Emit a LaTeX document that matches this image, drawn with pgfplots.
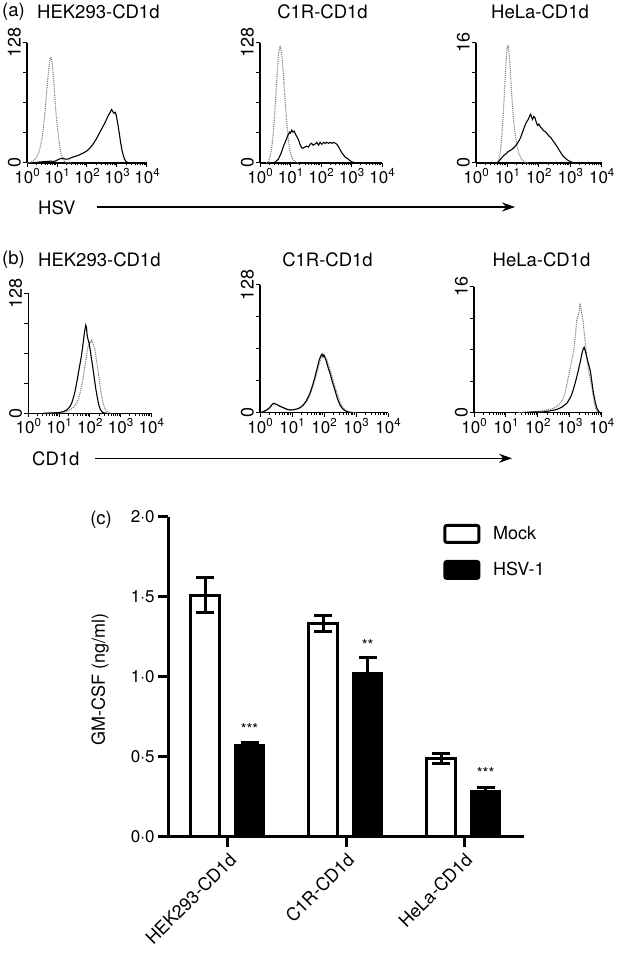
\documentclass[border=0pt]{standalone}
\usepackage{fontspec}
\setmainfont{TeX Gyre Heros}
\usepackage{pgfplots}
\pgfplotsset{compat=1.18}
\usetikzlibrary{arrows.meta}
\newcommand\dec[1]{10\raisebox{0.42em}{\fontsize{11.5}{12}\selectfont #1}}
\pgfplotsset{
  hist/.style={
    scale only axis, anchor=south west,
    axis x line*=bottom, axis y line*=left,
    axis line style={line width=1.4pt,-},
    xmin=0, xmax=4, ymin=0,
    xtick={0,1,2,3,4},
    xticklabels={\dec0,\dec1,\dec2,\dec3,\dec4},
    minor xtick={0.301,0.477,0.602,0.699,0.778,0.845,0.903,0.954,1.301,1.477,1.602,1.699,1.778,1.845,1.903,1.954,2.301,2.477,2.602,2.699,2.778,2.845,2.903,2.954,3.301,3.477,3.602,3.699,3.778,3.845,3.903,3.954},
    tick align=outside,
    major tick length=4pt, minor tick length=2.5pt,
    tick style={black, line width=1pt},
    xticklabel style={inner sep=1pt, font=\fontsize{17}{20}\selectfont},
    yticklabel style={rotate=90, anchor=south, inner sep=2pt},
    font=\fontsize{18}{21}\selectfont,
    clip=false,
  },
  h128/.style={ymax=128, ytick={0,32,64,96,128}, yticklabels={0,,,,128}},
  h16/.style={ymax=16, ytick={0,4,8,12,16}, yticklabels={0,,,,16}},
  iso/.style={gray, densely dotted, line width=1.1pt},
  stain/.style={black, line width=1.1pt},
}
\begin{document}
\begin{tikzpicture}
\path[use as bounding box] (0pt,0pt) rectangle (619pt,961pt);
\tikzset{lab/.style={font=\fontsize{18.5}{21}\selectfont, inner sep=0pt}}
% ---------- titles (a)
\node[lab, anchor=west] at (2pt,949pt) {(a)};
\node[lab, anchor=west] at (37pt,949pt) {HEK293-CD1d};
\node[lab] at (322.5pt,949pt) {C1R-CD1d};
\node[lab] at (540pt,949pt) {HeLa-CD1d};
\node[lab, anchor=west] at (38pt,753pt) {HSV};
\draw[-{Stealth[length=13pt,width=9pt]}, line width=1.3pt] (97pt,754pt) -- (515pt,754pt);
% ---------- titles (b)
\node[lab, anchor=west] at (2pt,701pt) {(b)};
\node[lab, anchor=west] at (38pt,701pt) {HEK293-CD1d};
\node[lab] at (327.5pt,701pt) {C1R-CD1d};
\node[lab] at (541.5pt,701pt) {HeLa-CD1d};
\node[lab, anchor=west] at (32pt,502.7pt) {CD1d};
\draw[-{Stealth[length=13pt,width=9pt]}, line width=1.3pt] (95pt,502.7pt) -- (512pt,502.7pt);

% ---------- a1
\begin{axis}[hist, h128, at={(27pt,798pt)}, width=120pt, height=120pt]
\addplot[iso] coordinates {(0.0,0) (0.1,0.5) (0.2,2) (0.3,5) (0.4,12) (0.45,18) (0.5,26) (0.55,38) (0.6,55) (0.65,74) (0.7,92) (0.74,105) (0.77,111) (0.79,113) (0.81,112) (0.84,106) (0.88,92) (0.92,74) (0.96,56) (1.0,42) (1.04,32) (1.08,20) (1.12,12) (1.16,7) (1.2,3.5) (1.27,1) (1.35,0.3) (1.5,0)};
\addplot[stain] coordinates {(0.2,0) (0.4,1) (0.6,1.5) (0.8,2) (0.9,1.5) (1.0,3) (1.1,4.5) (1.2,5) (1.3,4) (1.4,4.5) (1.5,6) (1.6,7) (1.7,8) (1.8,9.5) (1.9,11) (2.0,13) (2.1,16) (2.2,20) (2.3,25) (2.4,31) (2.5,37) (2.6,43) (2.7,50) (2.77,54) (2.82,57) (2.86,55) (2.9,53) (2.95,54) (2.98,50) (3.02,43) (3.07,33) (3.12,22) (3.17,13) (3.22,7) (3.27,3) (3.32,1) (3.4,0)};
\end{axis}
% ---------- a2
\begin{axis}[hist, h128, at={(260pt,798pt)}, width=122pt, height=120pt]
\addplot[iso] coordinates {(0.2,0) (0.27,1) (0.33,6) (0.4,20) (0.46,42) (0.52,72) (0.57,100) (0.61,117) (0.64,123) (0.66,124) (0.69,121) (0.73,110) (0.78,88) (0.83,64) (0.88,42) (0.93,25) (0.98,14) (1.03,7) (1.1,3) (1.17,1) (1.25,0)};
\addplot[stain] coordinates {(0.4,0) (0.5,1) (0.6,4) (0.7,11) (0.77,18) (0.85,24) (0.92,30) (0.97,33) (1.0,32) (1.04,35) (1.08,33) (1.12,34) (1.16,31) (1.21,28) (1.26,25) (1.31,20) (1.37,16) (1.42,16) (1.47,17) (1.53,18) (1.59,17) (1.64,20) (1.69,21) (1.74,19) (1.8,20) (1.86,22) (1.92,19) (1.97,22) (2.03,20) (2.09,22) (2.14,21) (2.19,22) (2.25,21) (2.3,22) (2.36,21) (2.41,22) (2.47,21) (2.52,20) (2.58,17) (2.63,14) (2.68,11) (2.74,8.5) (2.8,6) (2.86,5) (2.93,3) (3.0,1.5) (3.06,0.7) (3.15,0)};
\end{axis}
% ---------- a3
\begin{axis}[hist, h16, at={(476pt,798pt)}, width=125.7pt, height=120pt]
\addplot[iso] coordinates {(0.65,0) (0.72,0.3) (0.78,1.5) (0.83,4) (0.88,7.5) (0.93,11.5) (0.97,14.5) (1.0,15.5) (1.02,15.6) (1.05,14.8) (1.09,12.5) (1.13,9.5) (1.18,6.5) (1.24,4) (1.3,2.3) (1.37,1.2) (1.45,0.5) (1.56,0.1) (1.65,0)};
\addplot[stain] coordinates {(0.65,0) (0.72,0.2) (0.8,0.6) (0.88,1.0) (0.95,1.2) (1.02,1.5) (1.1,1.7) (1.17,1.9) (1.24,2.2) (1.3,2.5) (1.36,2.9) (1.42,3.4) (1.48,4.1) (1.54,4.8) (1.6,5.4) (1.66,5.8) (1.71,6.3) (1.74,6.5) (1.77,6.1) (1.8,5.8) (1.84,6.2) (1.88,6.0) (1.92,5.4) (1.96,5.0) (2.0,5.2) (2.05,4.8) (2.1,4.6) (2.15,4.3) (2.2,4.2) (2.26,3.9) (2.32,3.6) (2.38,3.4) (2.44,3.0) (2.5,2.7) (2.56,2.3) (2.62,1.9) (2.68,1.5) (2.74,1.1) (2.8,0.8) (2.88,0.5) (2.95,0.3) (3.05,0.1) (3.15,0)};
\end{axis}
% ---------- b1
\begin{axis}[hist, h128, at={(28.3pt,547.7pt)}, width=123pt, height=120pt]
\addplot[iso] coordinates {(0.6,0) (0.9,0.3) (1.1,0.6) (1.25,1.8) (1.4,4.5) (1.5,7.5) (1.57,10.7) (1.64,16) (1.7,24) (1.75,32) (1.79,39) (1.83,48) (1.88,58) (1.92,67.6) (1.96,73) (2.0,76.4) (2.03,75) (2.06,78) (2.09,76.4) (2.13,72) (2.17,67.6) (2.22,56) (2.28,42.7) (2.33,30) (2.39,17.8) (2.44,10) (2.49,5.3) (2.55,2) (2.6,0.7) (2.7,0)};
\addplot[stain] coordinates {(0.5,0) (0.7,0.3) (0.9,0.6) (1.0,0.8) (1.14,1.8) (1.25,3.5) (1.35,7) (1.41,10.7) (1.47,17) (1.53,25) (1.59,35.6) (1.65,47) (1.7,56) (1.74,64) (1.78,74) (1.81,82) (1.84,89) (1.87,94) (1.89,92) (1.92,81.8) (1.95,78) (1.98,74.7) (2.02,66) (2.06,57) (2.11,46) (2.16,34) (2.2,25) (2.24,17.8) (2.29,9) (2.35,3.6) (2.4,1.5) (2.45,0.5) (2.55,0)};
\end{axis}
% ---------- b2
\begin{axis}[hist, h128, at={(260pt,548.3pt)}, width=128pt, height=127.7pt]
\addplot[iso] coordinates {(0,0) (0.1,0.8) (0.21,2.5) (0.3,4.8) (0.37,7.5) (0.42,9) (0.48,8.5) (0.54,7.8) (0.62,6.3) (0.73,4.8) (0.84,3.3) (0.94,2.6) (1.05,2.9) (1.15,3.5) (1.25,4.8) (1.35,7) (1.45,11) (1.56,17.5) (1.64,25) (1.72,33.5) (1.8,43) (1.87,51) (1.93,56) (1.98,58) (2.02,57) (2.05,55.5) (2.08,54) (2.12,50) (2.2,42) (2.28,33) (2.36,24) (2.45,15) (2.54,8) (2.62,4) (2.7,2) (2.8,0.8) (2.9,0.2) (3.0,0)};
\addplot[stain] coordinates {(0,0) (0.1,1) (0.21,2.7) (0.3,5) (0.37,8) (0.42,9.4) (0.48,8.8) (0.54,8) (0.62,6.5) (0.73,5) (0.84,3.5) (0.94,2.7) (1.05,3) (1.15,3.7) (1.25,5) (1.35,7.7) (1.45,12) (1.56,19.4) (1.64,27) (1.72,36) (1.79,45) (1.85,52.8) (1.9,57) (1.94,58.8) (1.97,56) (2.0,57.8) (2.03,55) (2.06,52.8) (2.12,46) (2.19,39.4) (2.26,31) (2.34,22.7) (2.42,14) (2.5,7.7) (2.58,4) (2.66,2) (2.74,0.8) (2.81,0.3) (2.9,0)};
\end{axis}
% ---------- b3
\begin{axis}[hist, h16, at={(474pt,548.3pt)}, width=127.7pt, height=126pt]
\addplot[iso] coordinates {(1.4,0) (1.65,0.1) (1.9,0.15) (2.07,0.2) (2.3,0.35) (2.49,0.55) (2.6,0.8) (2.7,1.2) (2.78,1.7) (2.85,2.5) (2.92,3.8) (3.0,5.4) (3.06,6.6) (3.13,8) (3.18,10) (3.22,11.8) (3.26,12.4) (3.29,12.6) (3.32,13.9) (3.36,13) (3.41,11.8) (3.47,9.5) (3.53,7.1) (3.6,5) (3.69,3.3) (3.74,2) (3.79,0.76) (3.85,0.2) (3.9,0)};
\addplot[stain] coordinates {(1.6,0) (1.9,0.1) (2.17,0.1) (2.4,0.25) (2.59,0.4) (2.75,0.7) (2.91,1.2) (3.0,1.8) (3.06,2.3) (3.11,2.9) (3.19,4.1) (3.27,5.4) (3.33,6.5) (3.38,7.5) (3.42,8.1) (3.45,8.3) (3.49,7.8) (3.53,7.1) (3.58,6.3) (3.64,5.4) (3.69,4) (3.74,2.5) (3.8,1.3) (3.85,0.55) (3.9,0.2) (3.95,0)};
\end{axis}

% ---------- (c) bar chart
\begin{axis}[
  at={(168pt,124.3pt)}, anchor=south west, scale only axis,
  width=356pt, height=320pt,
  xmin=-0.508, xmax=2.508, ymin=0, ymax=2,
  axis x line*=bottom, axis y line*=left,
  axis line style={line width=3pt,-},
  xtick={0,1,2}, xticklabels={HEK293-CD1d,C1R-CD1d,HeLa-CD1d},
  ytick={0,0.5,1,1.5,2}, yticklabels={0·0,0·5,1·0,1·5,2·0},
  tick align=outside, major tick length=10pt,
  tick style={line width=3pt, black},
  font=\fontsize{18}{21}\selectfont,
  yticklabel style={font=\fontsize{17}{20}\selectfont},
  xticklabel style={rotate=45, anchor=north east},
  ylabel={GM-CSF (ng/ml)},
  ylabel style={at={(axis description cs:-0.191,0.49)}, anchor=center},
  ybar, bar width=0.243,
  legend style={at={(0.773,0.978)}, anchor=north west, draw=none, fill=none, row sep=16pt, inner sep=0pt, font=\fontsize{18}{21}\selectfont},
  legend cell align=left,
  legend image code/.code={\draw[line width=3pt, rounded corners=2pt, #1] (0pt,-8.5pt) rectangle (34pt,8.5pt); \path (46pt,0pt);},
  clip=false,
]
\addlegendimage{draw=black, fill=white}
\addlegendentry{Mock}
\addlegendimage{draw=black, fill=black}
\addlegendentry{HSV-1}
\addplot[bar shift=-0.193, draw=black, fill=white, line width=3pt, forget plot,
  error bars/.cd, y dir=both, y explicit, error bar style={line width=3pt, black}, error mark options={rotate=90, line width=3pt, mark size=9pt, black}]
  coordinates {(0,1.51) +- (0,0.11) (1,1.335) +- (0,0.05) (2,0.49) +- (0,0.03)};
\addplot[bar shift=0.183, draw=black, fill=black, line width=3pt, forget plot,
  error bars/.cd, y dir=both, y explicit, error bar style={line width=3pt, black}, error mark options={rotate=90, line width=3pt, mark size=9pt, black}]
  coordinates {(0,0.57) +- (0,0.02) (1,1.02) +- (0,0.10) (2,0.28) +- (0,0.03)};
\node[font=\fontsize{15}{15}\selectfont] at (axis cs:0.183,0.67) {***};
\node[font=\fontsize{15}{15}\selectfont] at (axis cs:1.183,1.20) {**};
\node[font=\fontsize{15}{15}\selectfont] at (axis cs:2.183,0.40) {***};
\node[font=\fontsize{18.5}{21}\selectfont] at (axis description cs:-0.188,0.99) {(c)};
\end{axis}
\end{tikzpicture}
\end{document}
